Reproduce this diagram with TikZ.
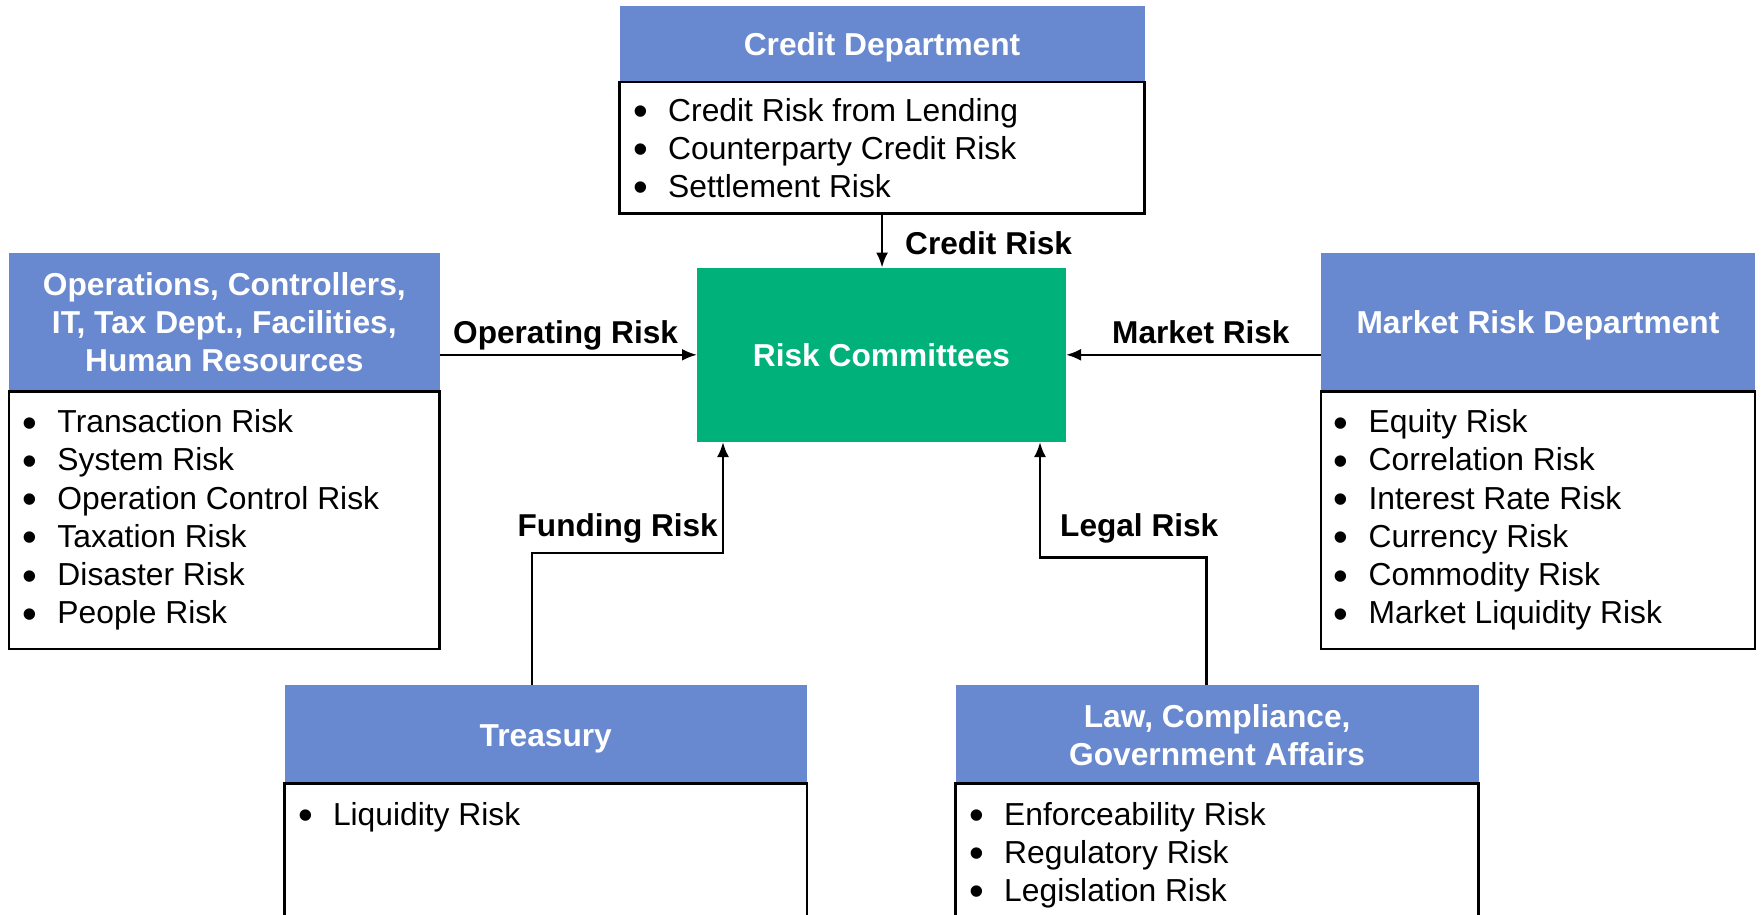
\documentclass[tikz,border=0pt]{standalone}
\usepackage{fontspec}
\setmainfont{Liberation Sans}
\usetikzlibrary{arrows.meta}
\definecolor{hblue}{RGB}{104,137,207}
\definecolor{rgreen}{RGB}{0,178,122}
\newcommand{\bul}{\makebox[35pt][l]{\raisebox{-4.5pt}{\fontsize{42pt}{42pt}\selectfont\textbullet}}}
\begin{document}
\begin{tikzpicture}[x=1pt,y=-1pt,
  hd/.style={fill=hblue, draw=none, inner sep=0pt, outer sep=0pt},
  bd/.style={draw=black, line width=2.5pt, fill=white, inner sep=0pt, outer sep=0pt},
  ht/.style={text=white, font=\fontsize{31.7pt}{38.2pt}\selectfont\bfseries, anchor=base, inner sep=0pt},
  it/.style={text=black, font=\fontsize{31.8pt}{38.2pt}\selectfont, anchor=base west, inner sep=0pt},
  lb/.style={text=black, font=\fontsize{31.6pt}{38.2pt}\selectfont\bfseries, inner sep=0pt},
  arr/.style={line width=2.5pt, -{Latex[length=15pt,width=12pt]}}]
\useasboundingbox (0,0) rectangle (1763,914);
\fill[white] (0,0) rectangle (1763,914);
\clip (0,0) rectangle (1763,914);

% Risk Committees
\node[fill=rgreen, minimum width=369pt, minimum height=174.4pt, inner sep=0pt, outer sep=0pt,
      text=white, font=\fontsize{31.7pt}{38.2pt}\selectfont\bfseries] (rc) at (881.5,354.8) {Risk Committees};

% Credit Department
\node[hd, minimum width=525.1pt, minimum height=76.4pt] (credhd) at (882.05,43.8) {};
\node[bd, minimum width=525.1pt, minimum height=131.6pt] (credbd) at (882.05,147.8) {};
\node[ht] (credt) at (882.05,55) {Credit Department};
\foreach \t [count=\i from 0] in {Credit Risk from Lending, Counterparty Credit Risk, Settlement Risk}
  \node[it] (cr\i) at (633,{121+38.2*\i}) {\bul\t};

% Operations
\node[hd, minimum width=430.6pt, minimum height=138.3pt] (opshd) at (224.3,322.15) {};
\node[bd, minimum width=430.6pt, minimum height=257.7pt] (opsbd) at (224.3,520.15) {};
\node[ht] (opst1) at (224.3,295) {Operations, Controllers,};
\node[ht] (opst2) at (224.3,333.3) {IT, Tax Dept., Facilities,};
\node[ht] (opst3) at (224.3,371.6) {Human Resources};
\foreach \t [count=\i from 0] in {Transaction Risk, System Risk, Operation Control Risk, Taxation Risk, Disaster Risk, People Risk}
  \node[it] (op\i) at (22.3,{432.7+38.2*\i}) {\bul\t};

% Market Risk Department
\node[hd, minimum width=434pt, minimum height=138.3pt] (mkthd) at (1538,322.15) {};
\node[bd, minimum width=434pt, minimum height=257.7pt] (mktbd) at (1538,520.15) {};
\node[ht] (mktt) at (1538,333.3) {Market Risk Department};
\foreach \t [count=\i from 0] in {Equity Risk, Correlation Risk, Interest Rate Risk, Currency Risk, Commodity Risk, Market Liquidity Risk}
  \node[it] (mk\i) at (1333.4,{432.7+38.2*\i}) {\bul\t};

% Treasury
\node[hd, minimum width=522.5pt, minimum height=98.9pt] (treashd) at (545.75,734.25) {};
\node[bd, minimum width=522.5pt, minimum height=146.3pt] (treasbd) at (545.75,856.85) {};
\node[ht] (treast) at (545.75,746) {Treasury};
\node[it] (tr0) at (297.8,825) {\bul Liquidity Risk};

% Law
\node[hd, minimum width=522.9pt, minimum height=98.9pt] (lawhd) at (1217.15,734.25) {};
\node[bd, minimum width=522.9pt, minimum height=146.3pt] (lawbd) at (1217.15,856.85) {};
\node[ht] (lawt1) at (1217.15,727.3) {Law, Compliance,};
\node[ht] (lawt2) at (1217.15,765) {Government Affairs};
\foreach \t [count=\i from 0] in {Enforceability Risk, Regulatory Risk, Legislation Risk}
  \node[it] (lw\i) at (969,{825+38*\i}) {\bul\t};

% Connectors
\draw[arr] (credbd.south) -- (credbd.south |- rc.north);
\draw[arr] (opshd.east |- rc.west) -- (rc.west);
\draw[arr] (mkthd.west |- rc.east) -- (rc.east);
\coordinate (fa) at ([xshift=-13.95pt]treashd.north);
\coordinate (fb) at ([xshift=-158.5pt]rc.south);
\draw[arr] (fa) -- ++(0,-131.6) -| (fb);
\coordinate (la) at ([xshift=-10.65pt]lawhd.north);
\coordinate (lb) at ([xshift=158.5pt]rc.south);
\draw[arr] (la) -- ++(0,-127.1) -| (lb);

% Labels
\node[lb, anchor=base west] (lcr) at (905,254) {Credit Risk};
\node[lb, anchor=base west] (lop) at (453,343) {Operating Risk};
\node[lb, anchor=base west] (lmk) at (1112,343) {Market Risk};
\node[lb, anchor=base east] (lfu) at (718,536.7) {Funding Risk};
\node[lb, anchor=base west] (lle) at (1060,536.7) {Legal Risk};
\end{tikzpicture}
\end{document}
